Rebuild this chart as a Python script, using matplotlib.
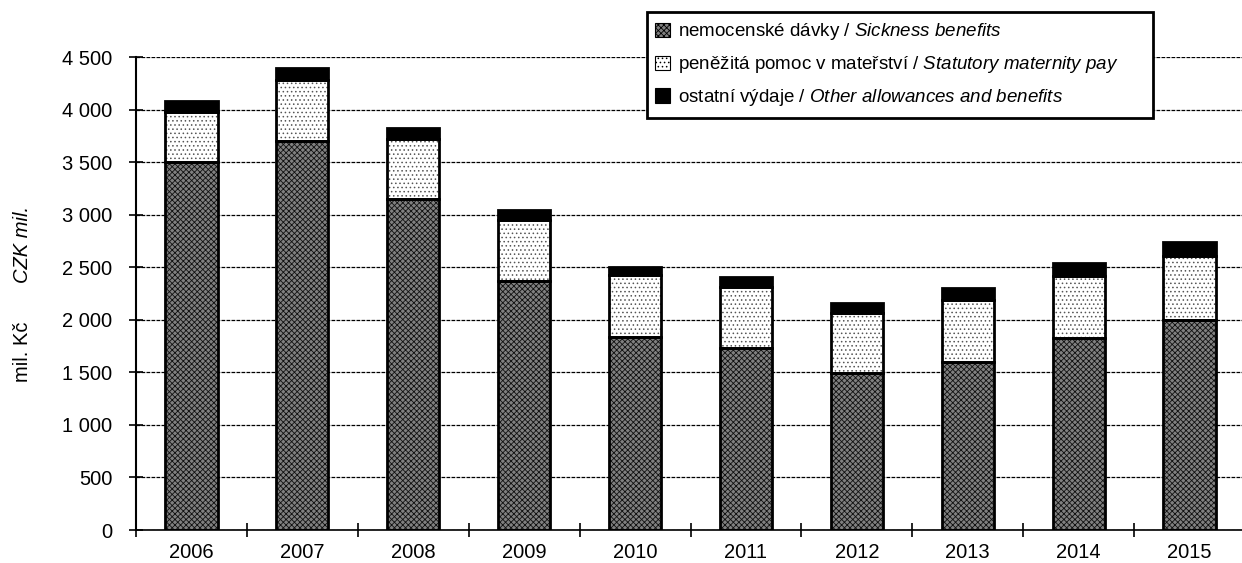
import numpy as np
import matplotlib
matplotlib.use("Agg")
import matplotlib.pyplot as plt
from matplotlib.patches import Patch, Rectangle

plt.rcParams['font.family'] = ['Liberation Sans', 'DejaVu Sans']
plt.rcParams['mathtext.fontset'] = 'custom'
plt.rcParams['mathtext.rm'] = 'Liberation Sans'
plt.rcParams['mathtext.it'] = 'Liberation Sans:italic'
plt.rcParams['hatch.linewidth'] = 0.6

years = ['2006', '2007', '2008', '2009', '2010', '2011', '2012', '2013', '2014', '2015']
sickness = [3500, 3700, 3150, 2370, 1840, 1730, 1490, 1600, 1825, 2000]
maternity = [480, 585, 570, 580, 590, 585, 580, 590, 595, 605]
other = [100, 110, 110, 100, 75, 90, 95, 115, 120, 140]

labels = [
    r'nemocenské dávky / $\mathit{Sickness\ benefits}$',
    r'peněžitá pomoc v mateřství / $\mathit{Statutory\ maternity\ pay}$',
    r'ostatní výdaje / $\mathit{Other\ allowances\ and\ benefits}$',
]
yticks = [0, 500, 1000, 1500, 2000, 2500, 3000, 3500, 4000, 4500]

W, H = 1242, 563
fig = plt.figure(figsize=(W / 100, H / 100), dpi=100)
ax = fig.add_axes([136 / W, 1 - 530 / H, 1109 / W, (530 - 57.3) / H])

x = np.arange(len(years))
w = 0.47
bottom2 = np.array(sickness)
bottom3 = bottom2 + np.array(maternity)

# segment fills (hatch colour comes from edgecolor), then black outlines on top
styles = [
    (sickness, 0, '#808080', 'xxxxxx', '#111111'),
    (maternity, bottom2, 'white', '....', '#555555'),
    (other, bottom3, 'black', None, 'black'),
]
for vals, bot, fc, hatch, hc in styles:
    ax.bar(x, vals, w, bottom=bot, color=fc, hatch=hatch, edgecolor=hc,
           linewidth=0, zorder=2)
    ax.bar(x, vals, w, bottom=bot, facecolor='none', edgecolor='black',
           linewidth=2, zorder=3)

ax.set_xlim(-0.5, len(years) - 0.5)
ax.set_ylim(0, 4500)
ax.set_yticks(yticks)
ax.set_yticklabels([f'{v:,}'.replace(',', ' ') for v in yticks])
ax.set_xticks(np.arange(-0.5, len(years), 1.0))
ax.set_xticklabels([])
ax.set_xticks(x, minor=True)
ax.set_xticklabels(years, minor=True)

ax.tick_params(axis='both', which='major', direction='inout', length=10,
               width=1.2, labelsize=14.5)
ax.tick_params(axis='y', pad=12)
ax.tick_params(axis='x', which='minor', length=0, pad=9, labelsize=14.5)

ax.yaxis.grid(True, color='black', linestyle=(0, (3, 1)), linewidth=0.9)
ax.set_axisbelow(True)
for s in ['top', 'right']:
    ax.spines[s].set_visible(False)
ax.spines['left'].set_linewidth(1.5)
ax.spines['bottom'].set_linewidth(1.2)

fig.text(22 / W, 1 - 352 / H, 'mil. Kč', rotation=90, ha='center',
         va='center', fontsize=14.5)
fig.text(22 / W, 1 - 244 / H, 'CZK mil.', rotation=90, ha='center',
         va='center', fontsize=14.5, style='italic')

# legend frame drawn separately so it can be wider than the entries
fig.patches.append(Rectangle((647 / W, 1 - 118 / H), 506 / W, 106 / H,
                             transform=fig.transFigure, facecolor='white',
                             edgecolor='black', linewidth=2, zorder=4))

handles = [
    Patch(facecolor='#808080', hatch='xxxxxx', edgecolor='black', linewidth=0.8),
    Patch(facecolor='white', hatch='....', edgecolor='black', linewidth=0.8),
    Patch(facecolor='black', edgecolor='black', linewidth=0.8),
]
leg = fig.legend(handles, labels, loc='upper left',
                 bbox_to_anchor=(647 / W, 1 - 13 / H), fontsize=13.5,
                 frameon=False, borderaxespad=0, handlelength=0.8,
                 handleheight=0.8, handletextpad=0.4, labelspacing=0.63,
                 borderpad=0.45)
leg.set_zorder(5)

fig.savefig('out.png', dpi=100)
